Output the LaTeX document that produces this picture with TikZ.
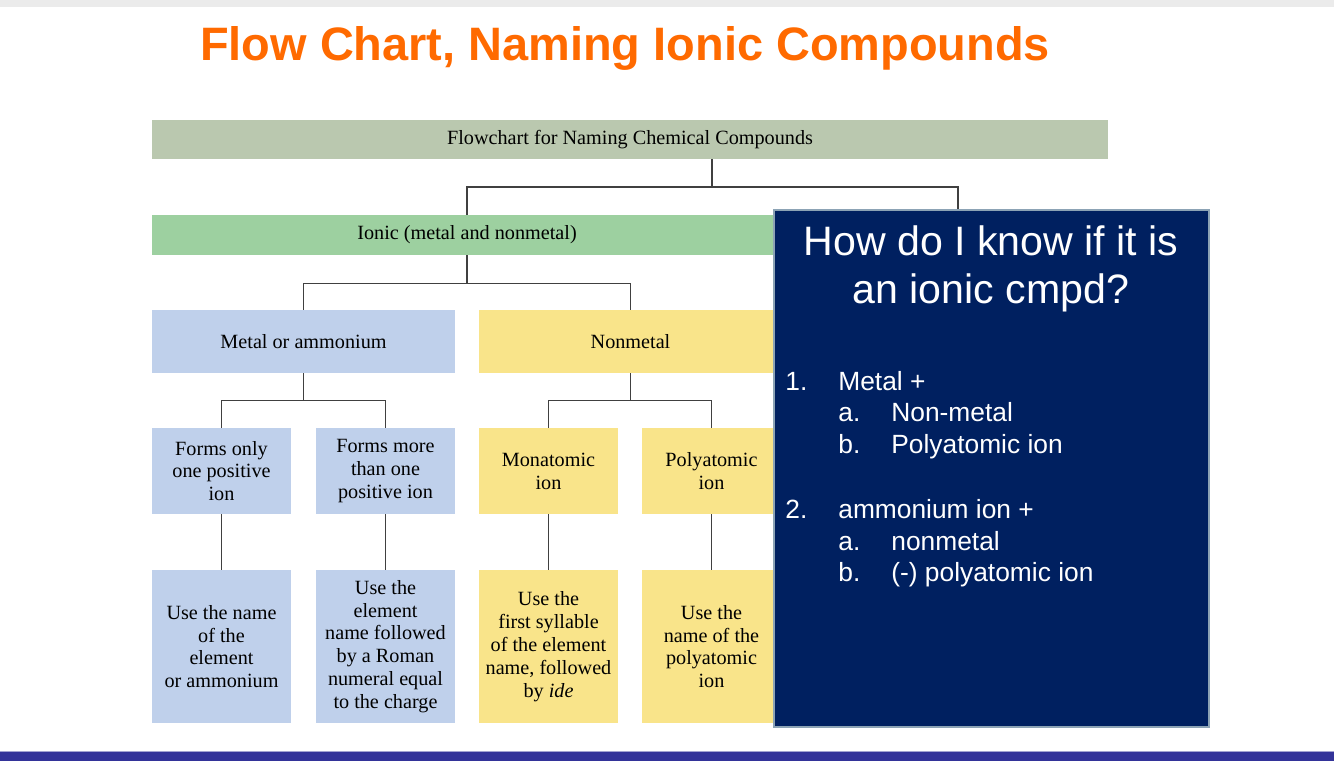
\documentclass[tikz,border=0pt]{standalone}
\usepackage{fontspec}
\setmainfont{Liberation Serif}
\newfontfamily\arialfont{Liberation Sans}
\usepackage{tikz}

\definecolor{titleorange}{HTML}{FF6A00}
\definecolor{hdrgreen}{HTML}{BAC8AF}
\definecolor{ionicgreen}{HTML}{9DD0A0}
\definecolor{metalblue}{HTML}{BFD0EB}
\definecolor{nonmetalyellow}{HTML}{F9E48A}
\definecolor{infonavy}{HTML}{002060}
\definecolor{infoborder}{HTML}{8CA3B5}
\definecolor{barblue}{HTML}{333399}

\begin{document}
\begin{tikzpicture}[
    x=0.02cm, y=-0.02cm,
    box/.style={draw=none, align=center, inner sep=0pt, font=\fontsize{11.5}{13}\selectfont},
    headbox/.style={box, fill=hdrgreen, minimum width=19.12cm, minimum height=0.78cm},
    ionicbox/.style={box, fill=ionicgreen, minimum width=12.6cm, minimum height=0.8cm},
    widebox/.style={box, minimum width=6.06cm, minimum height=1.26cm},
    midbox/.style={box, minimum width=2.78cm, minimum height=1.72cm},
    tallbox/.style={box, minimum width=2.78cm, minimum height=3.06cm},
    infobox/.style={fill=infonavy, draw=infoborder, line width=1.2pt, minimum width=8.7cm, minimum height=10.34cm},
    infohead/.style={text=white, align=center, font=\arialfont\fontsize{23.4}{27}\selectfont},
    infoitem/.style={text=white, anchor=base west, inner sep=0pt, font=\arialfont\fontsize{15}{18}\selectfont},
    link/.style={line width=0.8pt, draw=black!75},
]
    \useasboundingbox (0,0) rectangle (1334,761);
    \fill[white] (0,0) rectangle (1334,761);
    \fill[black!8] (0,0) rectangle (1334,7);
    \fill[barblue] (0,752) rectangle (1334,761);
    \draw[barblue!45, line width=0.6pt] (0,751.5) -- (1334,751.5);

    \node[anchor=base, text=titleorange, font=\arialfont\bfseries\fontsize{26.7}{30}\selectfont] (t) at (625,60) {Flow Chart, Naming Ionic Compounds};

    \node[headbox] (0) at (630,139.5) {Flowchart for Naming Chemical Compounds};
    \node[ionicbox] (1) at (467,235) {Ionic (metal and nonmetal)};
    \node[widebox, fill=metalblue] (2) at (303.5,341.5) {Metal or ammonium};
    \node[widebox, fill=nonmetalyellow] (3) at (630.5,341.5) {Nonmetal};

    \node[midbox, fill=metalblue] (4) at (221.5,471) {Forms only\\one positive\\ion};
    \node[midbox, fill=metalblue] (5) at (385.5,471) {Forms more\\than one\\positive ion};
    \node[midbox, fill=nonmetalyellow] (6) at (548.5,471) {Monatomic\\ion};
    \node[midbox, fill=nonmetalyellow] (7) at (711.5,471) {Polyatomic\\ion};

    \node[tallbox, fill=metalblue] (8) at (221.5,646.5) {Use the name\\of the\\element\\or ammonium};
    \node[tallbox, fill=metalblue] (9) at (385.5,646.5) {Use the\\element\\name followed\\by a Roman\\numeral equal\\to the charge};
    \node[tallbox, fill=nonmetalyellow] (10) at (548.5,646.5) {Use the\\first syllable\\of the element\\name, followed\\by \textit{ide}};
    \node[tallbox, fill=nonmetalyellow] (11) at (711.5,646.5) {Use the\\name of the\\polyatomic\\ion};

    \coordinate (j0) at (712,187);
    \coordinate (cov) at (958,215);
    \draw[link] (0.south -| j0) -- (j0);
    \draw[link] (1.north) |- (j0) -| (cov);
    \draw[link] (1.south) -- ++(0,28) -| (2.north);
    \draw[link] (1.south) -- ++(0,28) -| (3.north);
    \draw[link] (2.south) -- ++(0,27) -| (4.north);
    \draw[link] (2.south) -- ++(0,27) -| (5.north);
    \draw[link] (3.south) -- ++(0,27) -| (6.north);
    \draw[link] (3.south) -- ++(0,27) -| (7.north);
    \draw[link] (4) -- (8);
    \draw[link] (5) -- (9);
    \draw[link] (6) -- (10);
    \draw[link] (7) -- (11);

    % question box on top
    \node[infobox] (12) at (991.5,468.5) {};
    \node[infohead, anchor=base] (13) at (991,255) {How do I know if it is};
    \node[infohead, anchor=base] (14) at (991,303) {an ionic cmpd?};

    \node[infoitem] (15) at (785,390) {1.};
    \node[infoitem] (16) at (838,390) {Metal +};
    \node[infoitem] (17) at (838,421) {a.};
    \node[infoitem] (18) at (891,421) {Non-metal};
    \node[infoitem] (19) at (838,453) {b.};
    \node[infoitem] (20) at (891,453) {Polyatomic ion};
    \node[infoitem] (21) at (785,518) {2.};
    \node[infoitem] (22) at (838,518) {ammonium ion +};
    \node[infoitem] (23) at (838,550) {a.};
    \node[infoitem] (24) at (891,550) {nonmetal};
    \node[infoitem] (25) at (838,581) {b.};
    \node[infoitem] (26) at (891,581) {(-) polyatomic ion};
\end{tikzpicture}
\end{document}
